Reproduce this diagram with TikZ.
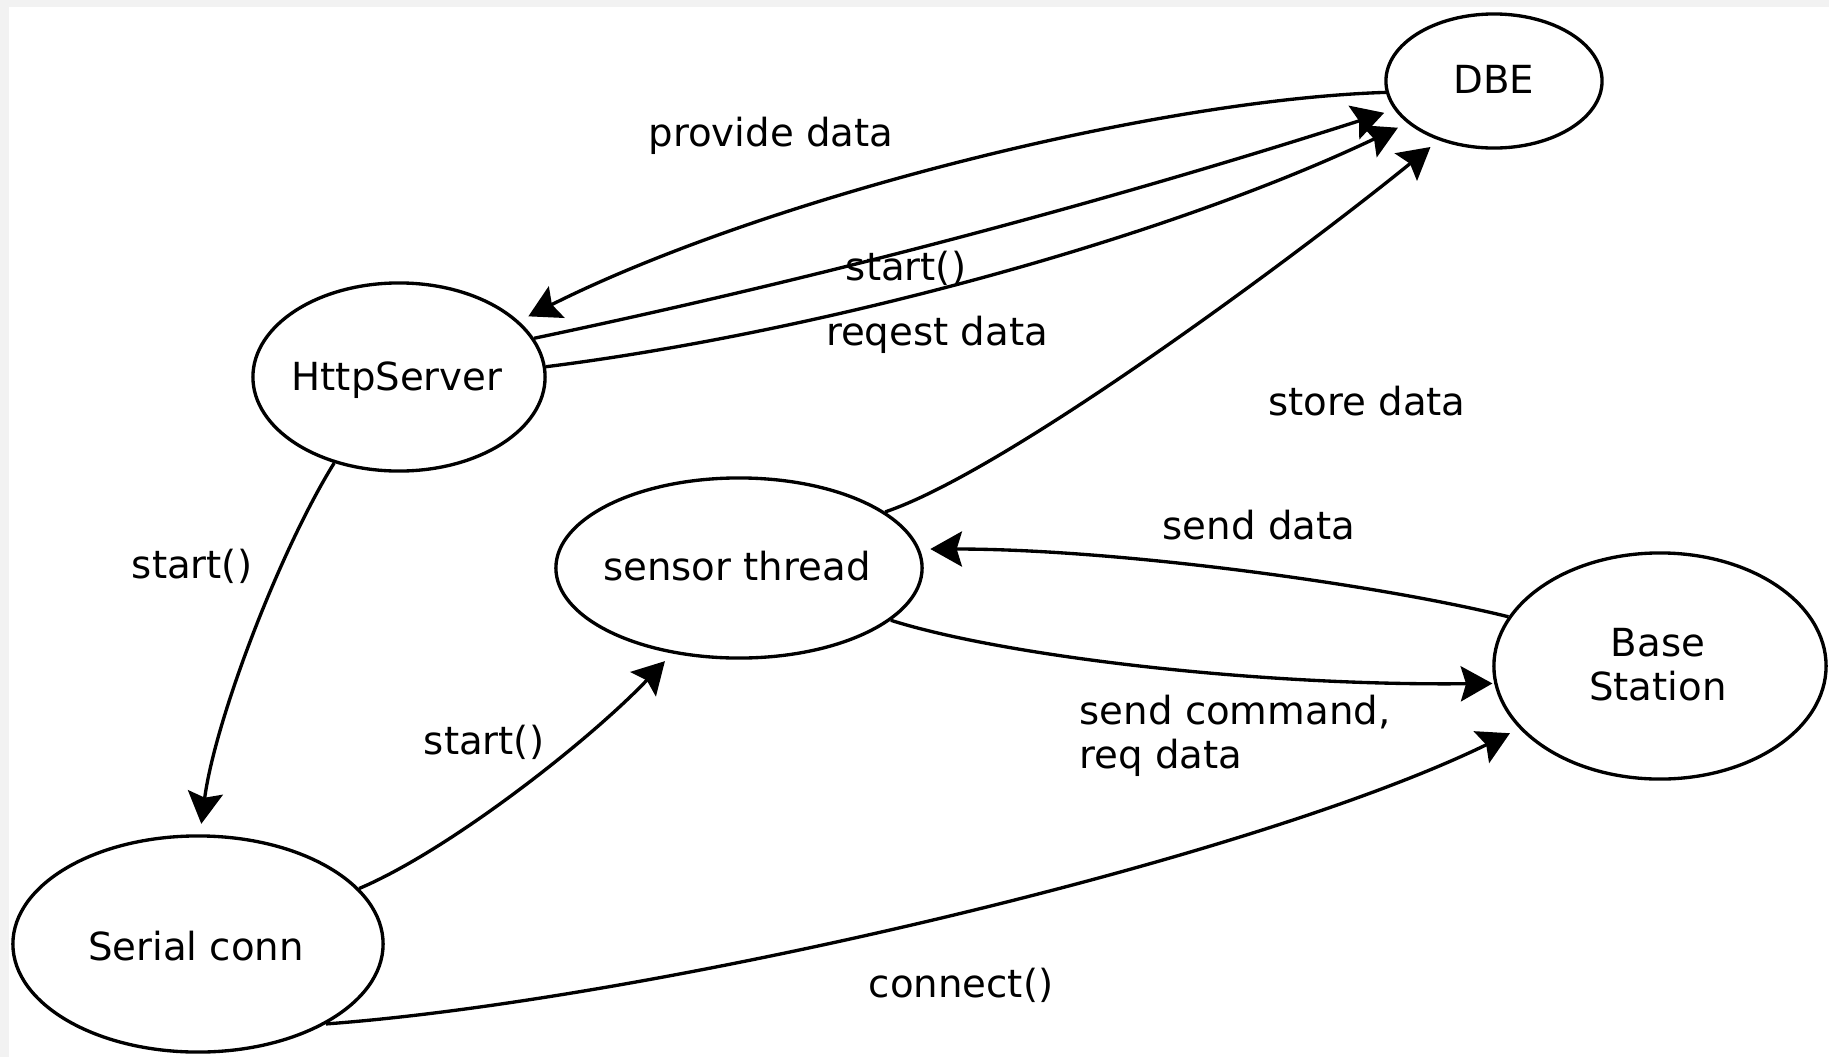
\documentclass[tikz,border=0pt]{standalone}
\usepackage{fontspec}
\setmainfont{DejaVu Sans}
\usetikzlibrary{arrows.meta,shapes.geometric}
\definecolor{framegray}{RGB}{242,242,242}

\begin{document}
\begin{tikzpicture}[x=0.01cm, y=-0.01cm,
  state/.style={draw=black, line width=0.95pt, ellipse, inner sep=0pt},
  txt/.style={font=\fontsize{11}{12.5}\selectfont, inner sep=0pt, anchor=base},
  arr/.style={draw=black, line width=0.95pt,
    -{Stealth[length=9pt,width=10pt,inset=1.5pt]}, shorten >=3pt},
]
% page with its thin grey frame on the top and left
\fill[framegray] (0,0) rectangle (1829,1057);
\fill[white] (9,7) rectangle (1829,1057);
\useasboundingbox (0,0) rectangle (1829,1057);

% components
\node[state, minimum width=2.16cm, minimum height=1.34cm] (dbe)    at (1494,81)  {};
\node[state, minimum width=2.92cm, minimum height=1.88cm] (http)   at (399,377)  {};
\node[state, minimum width=3.66cm, minimum height=1.80cm] (sensor) at (739,568)  {};
\node[state, minimum width=3.32cm, minimum height=2.26cm] (base)   at (1660,666) {};
\node[state, minimum width=3.70cm, minimum height=2.16cm] (serial) at (198,944)  {};

% names inside the components (multi-line text sits on its last baseline)
\node[txt] (dbe-t)    at (1494,93)  {DBE};
\node[txt] (http-t)   at (397,390)  {HttpServer};
\node[txt] (sensor-t) at (737,580)  {sensor thread};
\node[txt, align=center] (base-t) at (1658,700) {Base\\Station};
\node[txt] (serial-t) at (196,960)  {Serial conn};

% messages between components
\draw[arr] (dbe.186) .. controls (1150,100) and (760,200) .. (http.25);
\draw[arr] (http.16) .. controls (821,278) and (1106,202) .. (dbe.196);
\draw[arr] (http.4) .. controls (800,335) and (1150,245) .. (dbe.206);
\draw[arr] (sensor.21) .. controls (1010,470) and (1310,245) .. (dbe.227);
\draw[arr] (base.162) .. controls (1380,585) and (1120,549) .. (sensor.6);
\draw[arr, shorten >=0.5pt] (sensor.341) .. controls (1000,655) and (1250,686) .. (base.186);
\draw[arr] (serial.328) .. controls (650,1000) and (1250,860) .. (base.204);
\draw[arr] (http.233) .. controls (280,550) and (215,720) .. (serial.89);
\draw[arr] (serial.19) .. controls (450,850) and (590,740) .. (sensor.232);

% message labels
\node[txt] (l-provide) at (771,146)  {provide data};
\node[txt] (l-start1)  at (906,280)  {start()};
\node[txt] (l-req)     at (937,345)  {reqest data};
\node[txt] (l-store)   at (1367,415) {store data};
\node[txt] (l-send)    at (1259,539) {send data};
\node[txt, anchor=base west, align=left] (l-cmd) at (1079,768) {send command,\\req data};
\node[txt] (l-connect) at (961,997)  {connect()};
\node[txt] (l-start2)  at (192,578)  {start()};
\node[txt] (l-start3)  at (484,754)  {start()};
\end{tikzpicture}
\end{document}
